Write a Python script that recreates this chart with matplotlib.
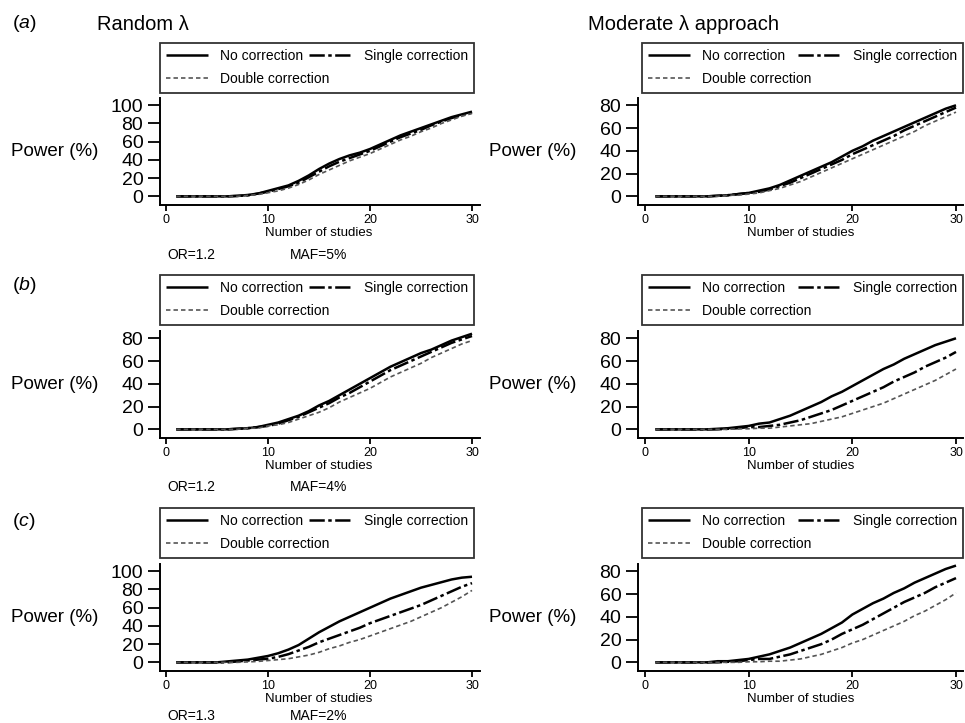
import matplotlib
matplotlib.use("Agg")
import matplotlib.pyplot as plt
import numpy as np

plt.rcParams['font.family'] = ['Liberation Sans', 'DejaVu Sans']
plt.rcParams['mathtext.fontset'] = 'custom'
plt.rcParams['mathtext.it'] = 'Liberation Sans:italic'
plt.rcParams['mathtext.rm'] = 'Liberation Sans'
plt.rcParams['lines.scale_dashes'] = False

# number of studies in the meta-analysis
studies = np.arange(1, 31)

# power (%), rows a/b/c, left = random lambda, right = moderate lambda
a_left_no = [0, 0, 0, 0, 0, 0, 0.5, 1.5, 3, 6, 9, 12, 17, 23, 30, 36, 41, 45, 48, 52,
             57, 62, 67, 71, 75, 79, 83, 87, 90, 93]
a_left_single = [0, 0, 0, 0, 0, 0, 0.5, 1, 3, 5, 8, 11, 15, 21, 27, 33, 38, 42, 46, 50,
                 55, 60, 65, 69, 73, 78, 82, 86, 89, 92]
a_left_double = [0, 0, 0, 0, 0, 0, 0, 1, 2, 4, 6, 9, 13, 18, 24, 29, 34, 39, 43, 47,
                 52, 57, 62, 66, 71, 75, 80, 84, 88, 91]

a_right_no = [0, 0, 0, 0, 0, 0, 0.5, 1, 2, 3, 5, 7, 10, 14, 18, 22, 26, 30, 35, 40,
              44, 49, 53, 57, 61, 65, 69, 73, 77, 80]
a_right_single = [0, 0, 0, 0, 0, 0, 0.5, 1, 2, 3, 4, 6, 9, 12, 16, 20, 24, 28, 32, 37,
                  41, 45, 49, 53, 58, 62, 66, 70, 74, 78]
a_right_double = [0, 0, 0, 0, 0, 0, 0, 1, 1, 2, 3, 5, 7, 10, 13, 17, 21, 25, 29, 33,
                  37, 41, 45, 49, 53, 57, 62, 66, 70, 74]

b_left_no = [0, 0, 0, 0, 0, 0, 0.5, 1, 2, 4, 6, 9, 12, 16, 21, 25, 30, 35, 40, 45,
             50, 55, 59, 63, 67, 70, 74, 78, 81, 84]
b_left_single = [0, 0, 0, 0, 0, 0, 0.5, 1, 2, 3, 5, 8, 11, 15, 19, 23, 28, 32, 37, 42,
                 47, 52, 56, 60, 64, 68, 72, 76, 79, 82]
b_left_double = [0, 0, 0, 0, 0, 0, 0, 1, 1, 3, 4, 6, 9, 12, 15, 19, 24, 28, 32, 36,
                 41, 46, 50, 54, 58, 63, 67, 71, 75, 78]

b_right_no = [0, 0, 0, 0, 0, 0, 0.5, 1, 2, 3, 5, 6, 9, 12, 16, 20, 24, 29, 33, 38,
              43, 48, 53, 57, 62, 66, 70, 74, 77, 80]
b_right_single = [0, 0, 0, 0, 0, 0, 0, 0.5, 1, 2, 2, 3, 4, 6, 8, 11, 14, 17, 21, 25,
                  29, 33, 37, 42, 46, 50, 55, 59, 63, 68]
b_right_double = [0, 0, 0, 0, 0, 0, 0, 0, 0.5, 0.5, 1, 1, 2, 3, 4, 5, 7, 9, 11, 14,
                  17, 20, 23, 27, 31, 35, 39, 43, 48, 53]

c_left_no = [0, 0, 0, 0, 0, 1, 2, 3, 5, 7, 10, 14, 19, 26, 33, 39, 45, 50, 55, 60,
             65, 70, 74, 78, 82, 85, 88, 91, 93, 94]
c_left_single = [0, 0, 0, 0, 0, 0, 1, 2, 3, 4, 6, 9, 13, 17, 22, 26, 30, 34, 38, 43,
                 47, 51, 55, 59, 63, 68, 73, 78, 83, 87]
c_left_double = [0, 0, 0, 0, 0, 0, 0, 0.5, 1, 2, 3, 4, 6, 8, 11, 15, 18, 22, 25, 29,
                 33, 37, 41, 45, 50, 55, 60, 66, 72, 79]

c_right_no = [0, 0, 0, 0, 0, 0, 1, 1, 2, 3, 5, 7, 10, 13, 17, 21, 25, 30, 35, 42,
              47, 52, 56, 61, 65, 70, 74, 78, 82, 85]
c_right_single = [0, 0, 0, 0, 0, 0, 0, 0.5, 1, 2, 3, 3, 5, 7, 10, 13, 16, 20, 25, 29,
                  33, 38, 43, 48, 53, 57, 61, 66, 70, 74]
c_right_double = [0, 0, 0, 0, 0, 0, 0, 0, 0, 0.5, 0.5, 1, 1, 2, 3, 5, 7, 10, 13, 17,
                  20, 24, 28, 32, 36, 41, 45, 50, 55, 61]

series_labels = ['No correction', 'Single correction', 'Double correction']
panel_letters = ['a', 'b', 'c']
col_titles = ['Random λ', 'Moderate λ approach']
or_labels = ['OR=1.2', 'OR=1.2', 'OR=1.3']
maf_labels = ['MAF=5%', 'MAF=4%', 'MAF=2%']

panels = [
    [(a_left_no, a_left_single, a_left_double), (a_right_no, a_right_single, a_right_double)],
    [(b_left_no, b_left_single, b_left_double), (b_right_no, b_right_single, b_right_double)],
    [(c_left_no, c_left_single, c_left_double), (c_right_no, c_right_single, c_right_double)],
]
y_tops = [[100, 80], [80, 80], [100, 80]]

W, H = 965, 723
fig = plt.figure(figsize=(W / 100, H / 100), dpi=100)

def fx(px):
    return px / W

def fy(py):
    return 1 - py / H

styles = [
    dict(color='black', lw=1.8, ls='-'),
    dict(color='black', lw=1.8, ls=(0, (11, 2.5, 2.5, 2.5))),
    dict(color='#555555', lw=1.2, ls=(0, (3.2, 2.2))),
]

col_x = [(160, 480, 166, 472), (638, 963, 645, 956)]
row_y = [(98, 205), (331, 438), (564, 671)]
legend_x = [(160, 474), (642, 963)]
legend_y = [(43, 92), (275, 323), (508, 558)]
info_y = [255, 487, 716]

for r in range(3):
    top, bot = row_y[r]
    for c in range(2):
        x0, x1, t0, t30 = col_x[c]
        ax = fig.add_axes([fx(x0), fy(bot), fx(x1 - x0), (bot - top) / H])
        no, single, double = panels[r][c]
        h = []
        for vals, st, lab in zip((no, single, double), styles, series_labels):
            ln, = ax.plot(studies, vals, label=lab, solid_capstyle='butt', **st)
            h.append(ln)
        # x limits from pixel positions of ticks 0 and 30
        ppu = (t30 - t0) / 30.0
        ax.set_xlim((x0 - t0) / ppu, (x1 - t0) / ppu)
        ymax = y_tops[r][c]
        ax.set_ylim(-0.095 * ymax, 1.08 * ymax)
        ax.set_yticks(np.arange(0, ymax + 1, 20))
        ax.set_xticks([0, 10, 20, 30])
        for s in ['top', 'right']:
            ax.spines[s].set_visible(False)
        for s in ['left', 'bottom']:
            ax.spines[s].set_linewidth(1.4)
        ax.tick_params(axis='y', length=9, width=1.3, pad=3, labelsize=14)
        ax.tick_params(axis='x', length=4, width=1.3, pad=2.5, labelsize=9)
        ax.patch.set_alpha(0)

        ymid = (top + bot) / 2
        fig.text(fx(x0 - 62), fy(ymid), 'Power (%)', fontsize=13.5,
                 ha='right', va='center')
        fig.text(fx(t0 + 15 * ppu), fy(bot + 28), 'Number of studies',
                 fontsize=9.5, ha='center', va='center')

        lx0, lx1 = legend_x[c]
        ly0, ly1 = legend_y[r]
        leg = fig.legend([h[0], h[2], h[1]],
                         [series_labels[0], series_labels[2], series_labels[1]],
                         ncol=2, loc='upper left', mode='expand',
                         bbox_to_anchor=(fx(lx0), fy(ly0) - (ly1 - ly0) / H,
                                         fx(lx1 - lx0), (ly1 - ly0) / H),
                         bbox_transform=fig.transFigure, borderaxespad=0,
                         fontsize=10, frameon=True, fancybox=False,
                         handlelength=3.0, handletextpad=0.9, columnspacing=1.6,
                         labelspacing=0.65, borderpad=0.45)
        leg.get_frame().set_edgecolor('black')
        leg.get_frame().set_linewidth(1.3)

        if c == 0:
            fig.text(fx(167), fy(info_y[r]), or_labels[r], fontsize=10,
                     ha='left', va='center')
            fig.text(fx(290), fy(info_y[r]), maf_labels[r], fontsize=10,
                     ha='left', va='center')

# panel letters and column titles
letter_y = [24, 286, 521]
for r in range(3):
    fig.text(fx(12), fy(letter_y[r]), '($\\it{' + panel_letters[r] + '}$)',
             fontsize=14, ha='left', va='center')
fig.text(fx(97), fy(24), col_titles[0], fontsize=14.5, ha='left', va='center')
fig.text(fx(588), fy(25), col_titles[1], fontsize=14.5, ha='left', va='center')

plt.savefig('out.png', dpi=100)
